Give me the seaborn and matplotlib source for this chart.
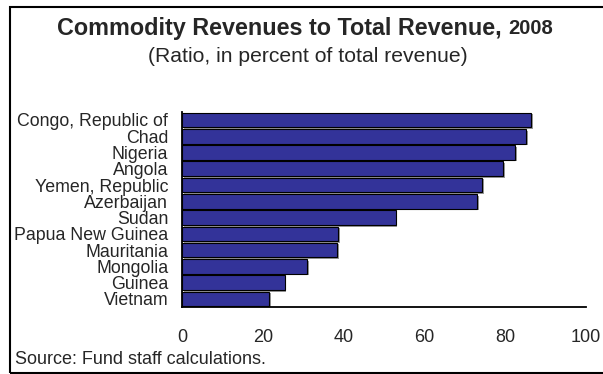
import numpy as np
import pandas as pd
import seaborn as sns

import matplotlib

matplotlib.use("Agg")
import matplotlib.pyplot as plt
import matplotlib.patheffects as pe
from matplotlib.patches import Rectangle

countries = [
    "Congo, Republic of",
    "Chad",
    "Nigeria",
    "Angola",
    "Yemen, Republic",
    "Azerbaijan",
    "Sudan",
    "Papua New Guinea",
    "Mauritania",
    "Mongolia",
    "Guinea",
    "Vietnam",
]
ratios = [86.4, 85.1, 82.4, 79.5, 74.3, 73.0, 52.9, 38.6, 38.4, 30.9, 25.4, 21.6]
x_ticks = [0, 20, 40, 60, 80, 100]

sns.set_style("white")
plt.rcParams["font.family"] = ["Liberation Sans", "DejaVu Sans"]

df = pd.DataFrame({"country": countries, "ratio": ratios})

fig = plt.figure(figsize=(6.03, 3.74), dpi=100)
ax = fig.add_axes([0.302, 0.179, 0.670, 0.522])

sns.barplot(
    data=df,
    x="ratio",
    y="country",
    orient="h",
    color="#333399",
    saturation=1,
    edgecolor="black",
    linewidth=0.8,
    width=0.9,
    ax=ax,
)
# little grey drop shadow like the original
for bar in ax.patches:
    bar.set_path_effects([
        pe.SimplePatchShadow(offset=(1.2, -1.2), shadow_rgbFace="#999999", alpha=1),
        pe.Normal(),
    ])

ax.set_xlim(0, 100)
ax.set_ylim(len(countries) - 0.5, -0.5)
ax.set_xlabel("")
ax.set_ylabel("")
ax.set_xticks(x_ticks)
ax.set_xticklabels([str(t) for t in x_ticks], fontsize=13)
ax.tick_params(axis="x", direction="in", length=5, width=1.3, pad=16, color="black")
ax.tick_params(axis="y", which="major", length=0, pad=10, labelsize=12.8)
ax.set_yticks(np.arange(-0.5, len(countries), 1.0), minor=True)
ax.tick_params(axis="y", which="minor", direction="inout", length=8, width=1.8, color="black")

for side in ["top", "right"]:
    ax.spines[side].set_visible(False)
for side in ["left", "bottom"]:
    ax.spines[side].set_color("black")
    ax.spines[side].set_linewidth(1.3)

# titles
t1 = fig.text(0.094, 0.925, "Commodity Revenues to Total Revenue, ", ha="left",
              va="center", fontsize=16.8, fontweight="bold")
fig.canvas.draw()
bb = t1.get_window_extent()
fig.text(bb.x1 / fig.bbox.width, 0.923, "2008", ha="left", va="center",
         fontsize=14.5, fontweight="bold")
fig.text(0.51, 0.85, "(Ratio, in percent of total revenue)", ha="center",
         va="center", fontsize=15.2)
fig.text(0.025, 0.04, "Source: Fund staff calculations.", ha="left",
         va="center", fontsize=13)

# outer frame (right edge runs off the image)
fig.patches.append(Rectangle((10 / 603, 1.2 / 374), 1.2, 366 / 374,
                             transform=fig.transFigure, fill=False,
                             edgecolor="black", linewidth=1.5))

plt.savefig("out.png", dpi=100, facecolor="white")
plt.close()
